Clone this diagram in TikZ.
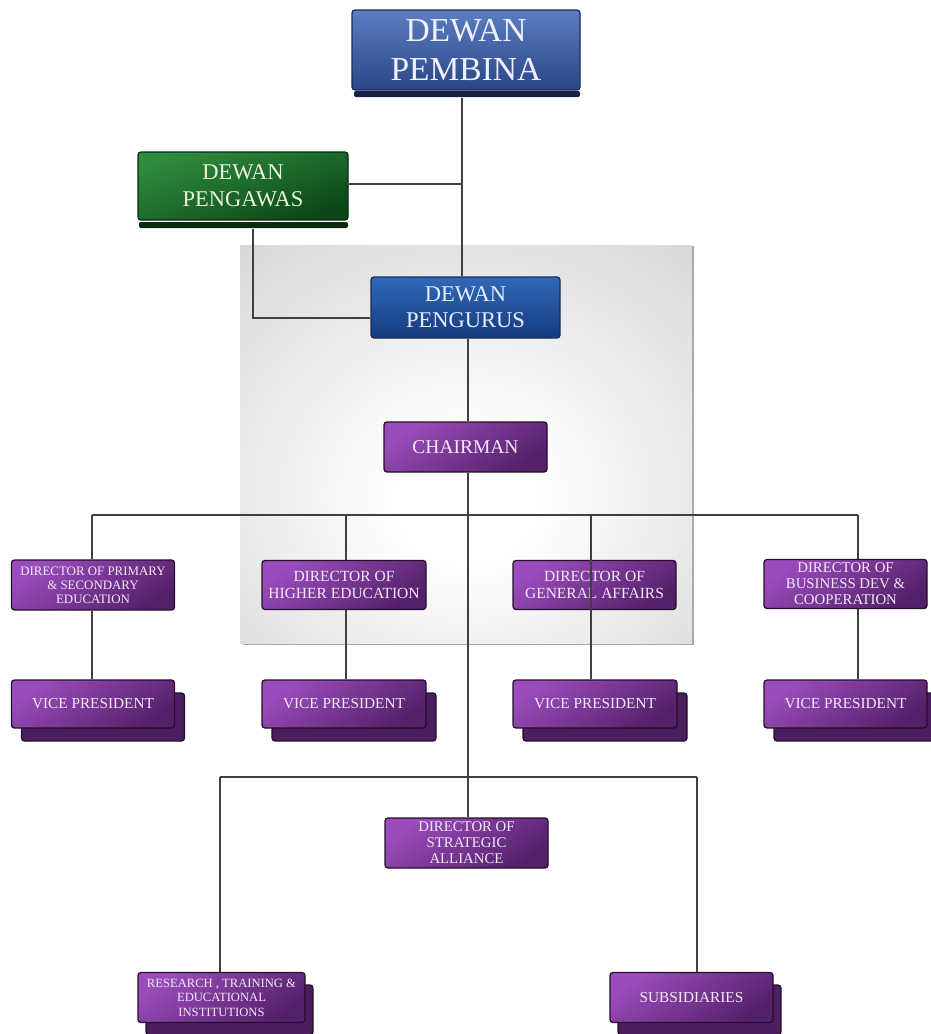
\documentclass[tikz,border=0pt]{standalone}
\usepackage{fontspec}
\setmainfont{Liberation Serif}
\definecolor{lineC}{HTML}{404040}
\definecolor{pL}{HTML}{9A4CBC}
\definecolor{pD}{HTML}{55206A}
\definecolor{pB}{HTML}{241028}
\definecolor{pT}{HTML}{F3E8F6}
\definecolor{bL}{HTML}{5B7DC2}
\definecolor{bD}{HTML}{2A4787}
\definecolor{bB}{HTML}{1C2C58}
\definecolor{uL}{HTML}{3068B8}
\definecolor{uD}{HTML}{143C7E}
\definecolor{gL}{HTML}{2F8C3C}
\definecolor{gD}{HTML}{0B4718}
\definecolor{gB}{HTML}{0C2A10}
\definecolor{gT}{HTML}{E8F2DC}
\definecolor{panA}{HTML}{FFFFFF}
\definecolor{panB}{HTML}{EDEDED}
\definecolor{panC}{HTML}{C2C2C2}
\definecolor{panD}{HTML}{B4B4B4}
\pgfdeclareradialshading{panelshade}{\pgfpoint{0bp}{-8bp}}{color(0bp)=(panA); color(8bp)=(panA); color(22bp)=(panB); color(55bp)=(panC); color(80bp)=(panD)}
\tikzset{
  cbox/.style={rounded corners=3pt, line width=1.3pt, inner sep=1pt, align=center},
  purp/.style={cbox, draw=pB, top color=pL, bottom color=pD, shading angle=35, text=pT},
  backp/.style={cbox, draw=pB, fill=pD!90!black},
  ln/.style={draw=lineC, line width=1.1pt},
  fA/.style={font=\fontsize{12.9}{14}\selectfont},
  fB/.style={font=\fontsize{15.5}{17}\selectfont},
  fC/.style={font=\fontsize{14.8}{16}\selectfont},
  fV/.style={font=\fontsize{15.3}{17}\selectfont},
}
\begin{document}
\begin{tikzpicture}[x=1pt,y=-1pt]
\useasboundingbox (0,0) rectangle (931,1034);
\fill[white] (0,0) rectangle (931,1034);

% grey panel
\fill[black!35] (243,246) rectangle (694,645);
\shade[shading=panelshade] (240,245) rectangle (692,643);

% shadow bars
\fill[bB!80!black, rounded corners=2pt] (354,91) rectangle (580,97);
\fill[gB, rounded corners=2pt] (139,222) rectangle (348,228);

% top boxes
\node[cbox, draw=bB, top color=bL, bottom color=bD, text=white!94!blue,
      minimum width=228, minimum height=80, font=\fontsize{33.5}{39}\selectfont]
      (pembina) at (466,50) {DEWAN\\PEMBINA};
\node[cbox, draw=gB, top color=gL, bottom color=gD, shading angle=20, text=gT,
      minimum width=210, minimum height=68, font=\fontsize{22.5}{27}\selectfont]
      (pengawas) at (243,186) {DEWAN\\PENGAWAS};
\node[cbox, draw=bB, top color=uL, bottom color=uD, text=white!92!blue,
      minimum width=189, minimum height=61, font=\fontsize{22.5}{26}\selectfont]
      (pengurus) at (465.5,307.5) {DEWAN\\PENGURUS};
\node[purp, minimum width=163, minimum height=50, font=\fontsize{19.5}{21}\selectfont]
      (chairman) at (465.5,447) {CHAIRMAN};

% directors
\node[purp, fA, minimum width=163, minimum height=50] (d1) at (93,585)
      {DIRECTOR OF PRIMARY\\\& SECONDARY\\EDUCATION};
\node[purp, fB, minimum width=164, minimum height=49] (d2) at (344,585)
      {DIRECTOR OF\\HIGHER EDUCATION};
\node[purp, fB, minimum width=163, minimum height=49] (d3) at (594.5,585)
      {DIRECTOR OF\\GENERAL AFFAIRS};
\node[purp, fC, minimum width=163, minimum height=49] (d4) at (845.5,584)
      {DIRECTOR OF\\BUSINESS DEV \&\\COOPERATION};

% vice presidents (stacked)
\node[backp, minimum width=163, minimum height=48] (vp1b) at (103,717) {};
\node[purp, fV, minimum width=163, minimum height=48] (vp1) at (93,704) {VICE PRESIDENT};
\node[backp, minimum width=164, minimum height=48] (vp2b) at (354,717) {};
\node[purp, fV, minimum width=164, minimum height=48] (vp2) at (344,704) {VICE PRESIDENT};
\node[backp, minimum width=164, minimum height=48] (vp3b) at (605,717) {};
\node[purp, fV, minimum width=164, minimum height=48] (vp3) at (595,704) {VICE PRESIDENT};
\node[backp, minimum width=163, minimum height=48] (vp4b) at (855.5,717) {};
\node[purp, fV, minimum width=163, minimum height=48] (vp4) at (845.5,704) {VICE PRESIDENT};

% strategic alliance
\node[purp, fC, minimum width=163, minimum height=50] (dsa) at (466.5,843)
      {DIRECTOR OF\\STRATEGIC\\ALLIANCE};

% bottom row
\node[backp, minimum width=167, minimum height=50] (resb) at (229.5,1010) {};
\node[purp, font=\fontsize{12.6}{14.5}\selectfont, minimum width=167, minimum height=50] (res) at (221.5,997.5)
      {RESEARCH , TRAINING \&\\EDUCATIONAL\\INSTITUTIONS};
\node[backp, minimum width=163, minimum height=50] (subsb) at (699.5,1010) {};
\node[purp, fV, minimum width=163, minimum height=50] (subs) at (691.5,997.5) {SUBSIDIARIES};

% connectors
\coordinate (j1) at (462,184);
\coordinate (k1) at (253,318);
\coordinate (cx) at (468,515);
\coordinate (b1) at (92,515);
\coordinate (b2) at (346,515);
\coordinate (b3) at (591,515);
\coordinate (b4) at (858,515);
\coordinate (c1) at (220,777);
\coordinate (c2) at (697,777);

\draw[ln] (pembina.south -| j1) ++(0,7) -- (pengurus.north -| j1);
\draw[ln] (pengawas.east |- j1) -- (j1);
\draw[ln] (pengawas.south -| k1) ++(0,8) -- (k1) -- (pengurus.west |- k1);
\draw[ln] (pengurus.south -| cx) -- (chairman.north -| cx);
\draw[ln] (chairman.south -| cx) -- (dsa.north -| cx);
\draw[ln] (b1) -- (b4);
\draw[ln] (b1) -- (d1.north -| b1);
\draw[ln] (d1.south -| b1) -- (vp1.north -| b1);
\draw[ln] (b2) -- (d2.north -| b2);
\draw[ln] (d2.south -| b2) -- (vp2.north -| b2);
\draw[ln] (b3) -- (vp3.north -| b3);
\draw[ln] (b4) -- (d4.north -| b4);
\draw[ln] (d4.south -| b4) -- (vp4.north -| b4);
\draw[ln] (c1) -- (c2);
\draw[ln] (c1) -- (res.north -| c1);
\draw[ln] (c2) -- (subs.north -| c2);
\end{tikzpicture}
\end{document}
